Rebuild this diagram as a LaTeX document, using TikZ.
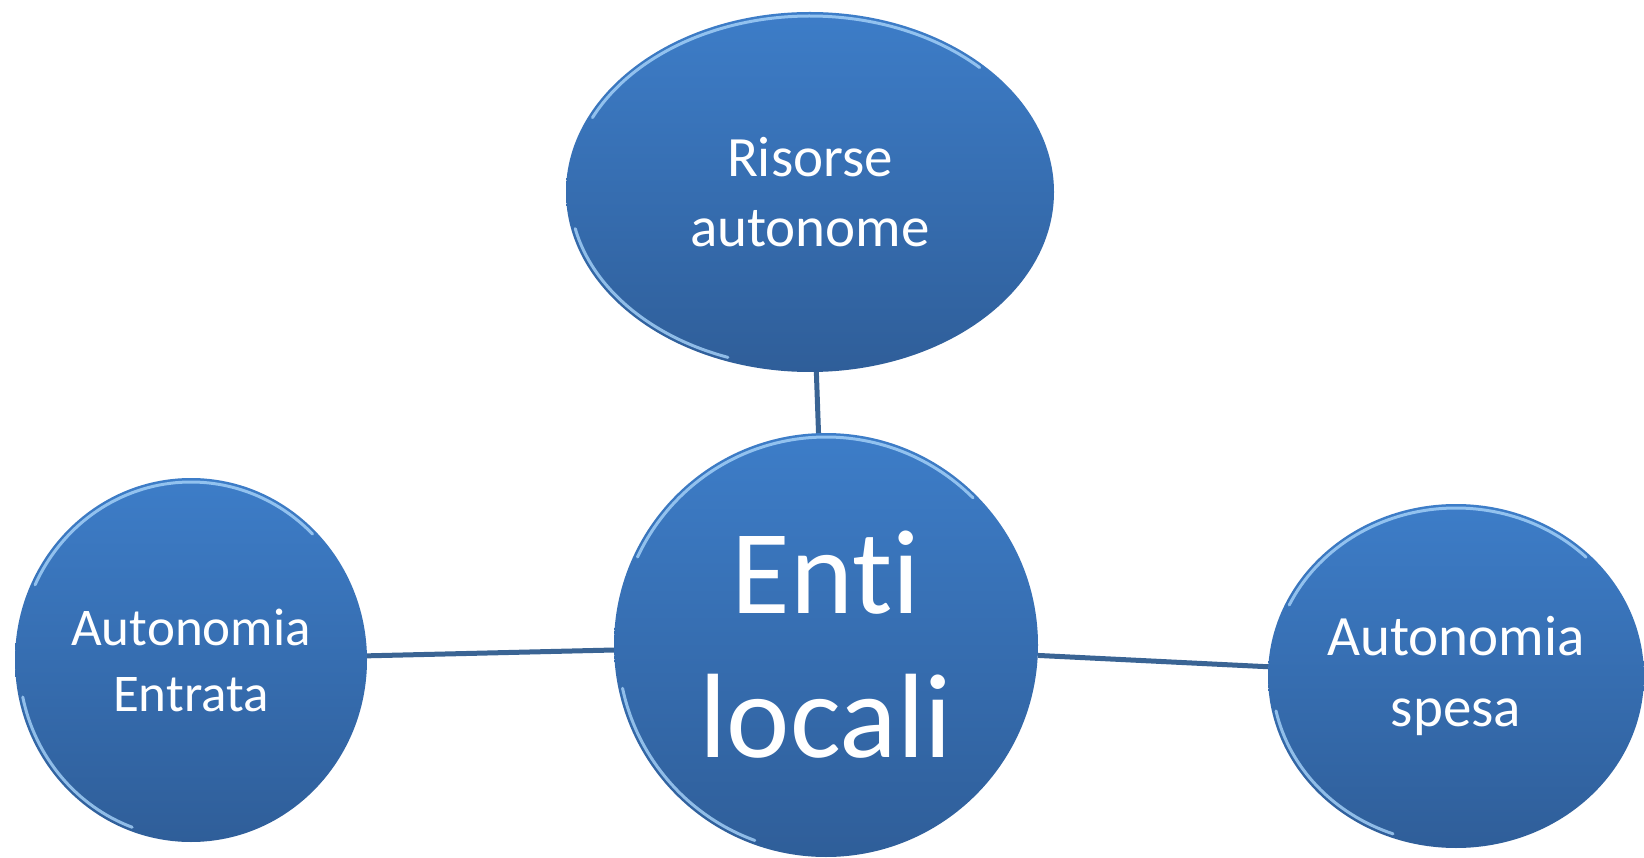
\documentclass[tikz,border=0pt]{standalone}
\usepackage{fontspec}
\setmainfont[Ligatures={NoCommon,NoRequired,NoContextual}]{Carlito}
\usetikzlibrary{shapes.geometric,calc}
\definecolor{topblue}{HTML}{3D7DC8}
\definecolor{botblue}{HTML}{2F5E99}
\definecolor{linkblue}{HTML}{3A6494}
\definecolor{rimblue}{HTML}{A8D4FA}
\tikzset{
  bubble/.style={ellipse, inner sep=0pt, top color=topblue, bottom color=botblue,
    draw=none, text=white, align=center},
  link/.style={draw=linkblue, line width=5pt},
  rim/.style={draw=rimblue, line width=3pt, line cap=round, opacity=0.8},
}
\begin{document}
\begin{tikzpicture}[x=1pt,y=1pt]
\useasboundingbox[fill=white] (0,0) rectangle (1644,-858);
\node[bubble, minimum width=488pt, minimum height=360pt,
  font=\fontsize{57}{70}\selectfont] (top) at (810,-192) {Risorse\\autonome};
\node[bubble, minimum width=424pt, minimum height=424pt,
  font=\fontsize{120}{144}\selectfont] (ctr) at (826,-645) {Enti\\locali};
\node[bubble, minimum width=352pt, minimum height=364pt,
  font=\fontsize{53}{66}\selectfont] (lft) at (191,-660) {Autonomia\\Entrata};
\node[bubble, minimum width=376pt, minimum height=344pt,
  font=\fontsize{57}{71}\selectfont] (rgt) at (1456,-676) {Autonomia\\spesa};
% rim highlights
\draw[rim] ($(top.center)+(155:240 and 176)$) arc[start angle=155,end angle=45,x radius=240,y radius=176];
\draw[rim] ($(top.center)+(192:240 and 176)$) arc[start angle=192,end angle=250,x radius=240,y radius=176];
\draw[rim] ($(ctr.center)+(155:208 and 208)$) arc[start angle=155,end angle=45,x radius=208,y radius=208];
\draw[rim] ($(ctr.center)+(192:208 and 208)$) arc[start angle=192,end angle=250,x radius=208,y radius=208];
\draw[rim] ($(lft.center)+(155:172 and 178)$) arc[start angle=155,end angle=45,x radius=172,y radius=178];
\draw[rim] ($(lft.center)+(192:172 and 178)$) arc[start angle=192,end angle=250,x radius=172,y radius=178];
\draw[rim] ($(rgt.center)+(155:184 and 168)$) arc[start angle=155,end angle=45,x radius=184,y radius=168];
\draw[rim] ($(rgt.center)+(192:184 and 168)$) arc[start angle=192,end angle=250,x radius=184,y radius=168];
% connectors
\draw[link] (top) -- (ctr);
\draw[link] (lft) -- (ctr);
\draw[link] (ctr) -- (rgt);
\end{tikzpicture}
\end{document}
